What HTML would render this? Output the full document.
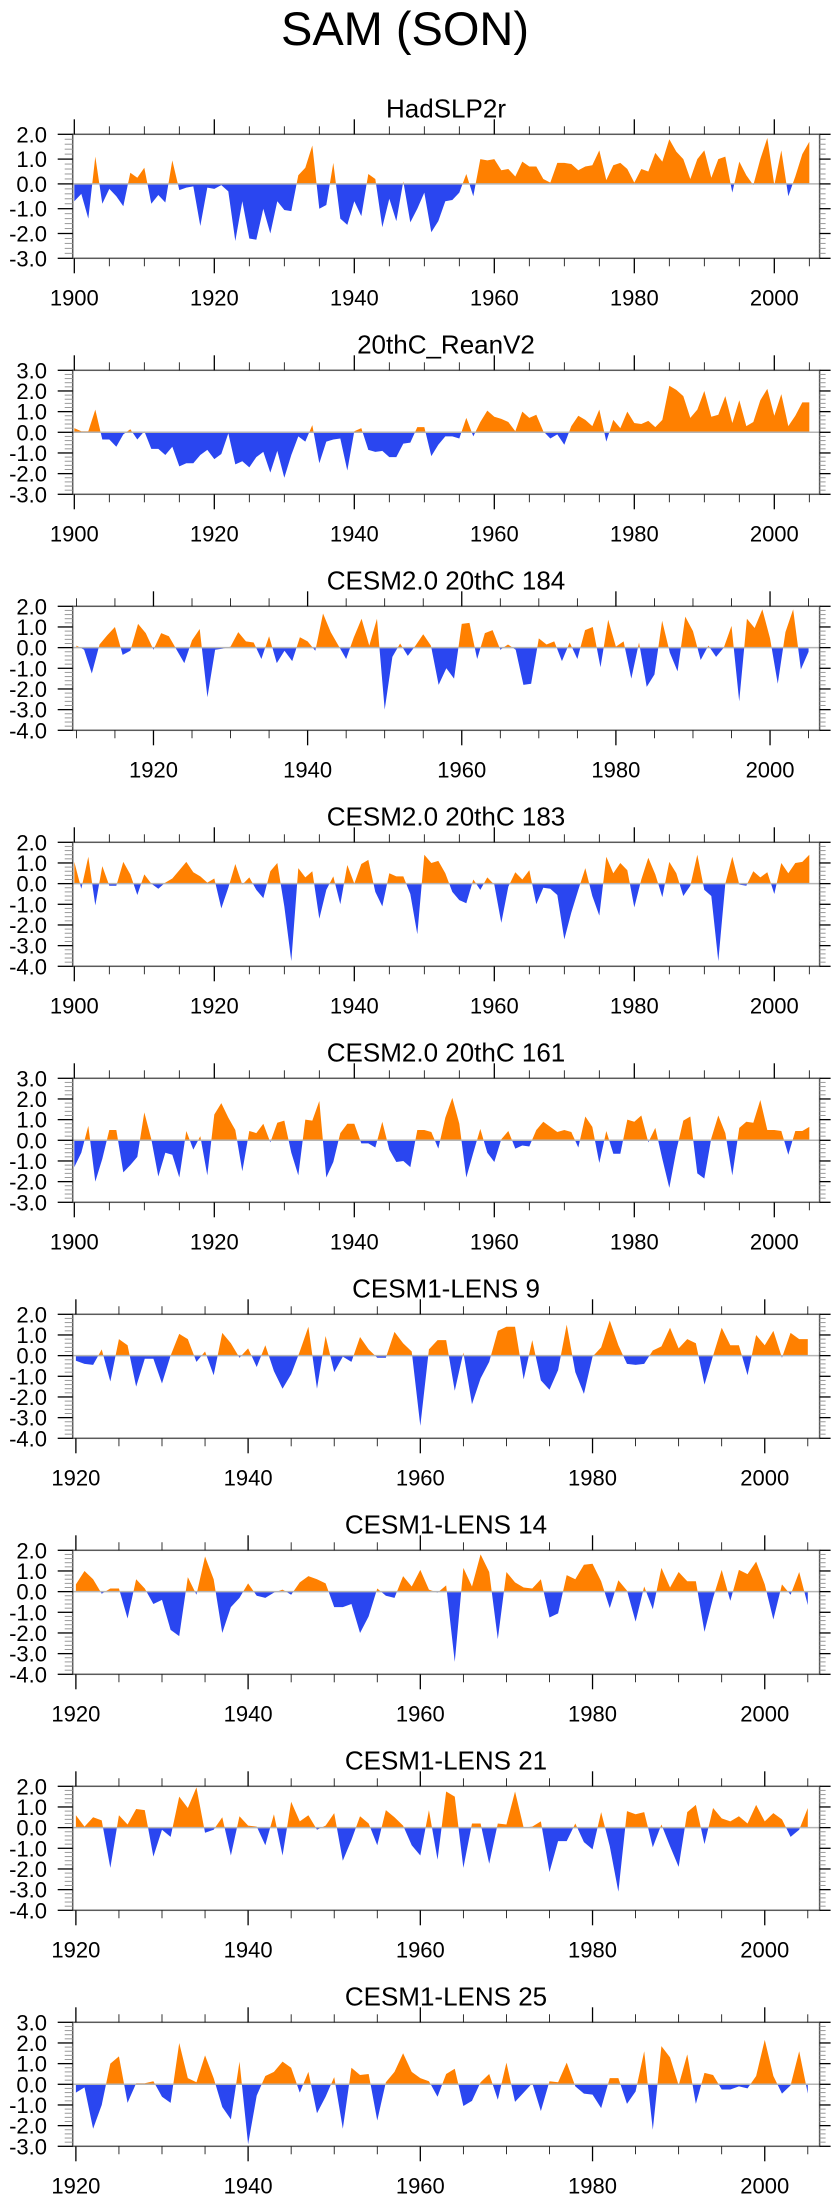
<!DOCTYPE html>
<html>
<head>
<meta charset="utf-8">
<style>
  html, body { margin: 0; padding: 0; background: #fff; }
  svg { display: block; font-family: "Liberation Sans", "DejaVu Sans", sans-serif; }
</style>
</head>
<body>
<svg id="chart" width="840" height="2200" viewBox="0 0 840 2200" xmlns="http://www.w3.org/2000/svg">
  <rect x="0" y="0" width="840" height="2200" fill="#ffffff"/>
  <text x="405" y="45" font-size="47" text-anchor="middle" fill="#000">SAM (SON)</text>
</svg>
<script>
// ---- data ----
const panelTitles = ["HadSLP2r","20thC_ReanV2","CESM2.0 20thC 184","CESM2.0 20thC 183","CESM2.0 20thC 161","CESM1-LENS 9","CESM1-LENS 14","CESM1-LENS 21","CESM1-LENS 25"];
const startYears = [1900,1900,1910,1900,1900,1920,1920,1920,1920];
const yMaxes = [2,3,2,2,3,2,2,2,3];
const yMins = [-3,-3,-4,-4,-3,-4,-4,-4,-3];
const xTickLabels1900 = [1900,1920,1940,1960,1980,2000];
const xTickLabels1920 = [1920,1940,1960,1980,2000];

const hadslp2r = [-0.7,-0.4,-1.4,1.1,-0.8,-0.2,-0.5,-0.9,0.45,0.25,
 0.65,-0.8,-0.45,-0.75,0.95,-0.25,-0.15,-0.1,-1.7,-0.15,
 -0.2,-0.05,-0.3,-2.3,-0.7,-2.2,-2.25,-1.0,-2.0,-0.7,
 -1.05,-1.1,0.35,0.65,1.55,-1.0,-0.85,0.85,-1.4,-1.65,
 -0.7,-1.3,0.4,0.2,-1.75,-0.6,-1.5,0.1,-1.55,-1.0,
 -0.35,-1.95,-1.5,-0.7,-0.65,-0.35,0.4,-0.5,1.0,0.95,
 1.0,0.55,0.6,0.3,0.9,0.7,0.7,0.2,0.05,0.85,
 0.85,0.8,0.55,0.7,0.75,1.35,0.15,0.75,0.85,0.6,
 0.05,0.6,0.5,1.25,0.9,1.8,1.3,1.0,0.2,1.0,
 1.35,0.25,1.0,1.1,-0.35,0.9,0.35,-0.05,1.0,1.85,
 -0.05,1.35,-0.5,0.3,1.2,1.7];
const reanV2 = [0.2,0.05,0.05,1.1,-0.35,-0.35,-0.7,-0.1,0.15,-0.35,
 0.05,-0.8,-0.8,-1.1,-0.7,-1.65,-1.5,-1.5,-1.1,-0.85,
 -1.3,-1.05,-0.05,-1.55,-1.4,-1.7,-1.2,-0.95,-1.95,-0.9,
 -2.2,-1.1,-0.2,-0.45,0.35,-1.5,-0.45,-0.35,-0.3,-1.85,
 0.05,0.2,-0.85,-0.95,-0.9,-1.2,-1.2,-0.55,-0.5,0.25,
 0.25,-1.15,-0.6,-0.2,-0.2,-0.3,0.7,-0.2,0.5,1.05,
 0.75,0.65,0.5,0.05,1.0,0.7,0.85,0.05,-0.3,-0.1,
 -0.6,0.3,0.8,0.6,0.3,1.1,-0.45,0.6,0.2,1.0,
 0.45,0.4,0.55,0.25,0.6,2.25,2.05,1.75,0.7,1.1,
 2.0,0.75,0.85,1.75,0.45,1.55,0.3,0.5,1.55,2.1,
 0.8,1.85,0.3,0.8,1.45,1.45];
const cesm2m184 = [0.1,-0.1,-1.25,0.15,0.6,1.0,-0.35,-0.15,1.15,0.7,
 -0.1,0.7,0.55,-0.1,-0.75,0.35,0.9,-2.4,-0.1,-0.05,
 0.05,0.75,0.3,0.25,-0.55,0.55,-0.75,-0.15,-0.65,0.5,
 0.3,-0.15,1.65,0.75,0.1,-0.55,0.5,1.4,0.1,1.4,
 -3.0,-0.45,0.2,-0.4,0.1,0.65,0.1,-1.8,-1.0,-1.5,
 1.15,1.2,-0.55,0.7,0.85,-0.1,0.15,-0.1,-1.8,-1.75,
 0.45,0.15,0.3,-0.65,0.25,-0.55,0.85,1.0,-0.95,1.35,
 0.05,0.3,-1.5,0.25,-1.9,-1.3,1.3,-0.25,-1.15,1.5,
 0.8,-0.6,0.1,-0.45,0.0,1.05,-2.6,1.4,0.95,1.85,
 0.45,-1.75,0.75,1.85,-1.05,-0.2];
const cesm2m183 = [1.05,-0.25,1.3,-1.05,0.85,-0.1,-0.1,1.05,0.45,-0.55,
 0.45,0.0,-0.25,0.05,0.25,0.65,1.05,0.55,0.35,0.05,
 0.25,-1.2,-0.2,0.95,-0.05,0.3,-0.3,-0.7,0.6,1.0,
 -1.1,-3.75,0.75,0.3,0.6,-1.7,-0.3,0.35,-1.0,0.9,
 0.0,0.95,1.15,-0.4,-1.1,0.5,0.35,0.35,-0.5,-2.45,
 1.4,1.0,1.1,0.5,-0.4,-0.8,-0.95,0.2,-0.3,0.3,
 -0.05,-1.9,-0.15,0.55,0.2,0.65,-1.0,-0.2,-0.25,-0.55,
 -2.7,-1.4,-0.3,0.75,-0.6,-1.55,1.3,0.5,1.0,0.65,
 -1.15,0.2,1.25,0.45,-0.65,1.05,0.5,-0.6,-0.1,1.4,
 -0.3,-0.6,-3.75,0.0,1.3,-0.05,-0.1,0.6,0.3,0.55,
 -0.5,1.0,0.5,1.0,1.05,1.4];
const cesm2m161 = [-1.3,-0.6,0.7,-2.0,-0.9,0.5,0.5,-1.55,-1.2,-0.8,
 1.35,0.05,-1.75,-0.6,-0.7,-1.8,0.45,-0.45,0.2,-1.7,
 1.25,1.8,1.1,0.5,-1.5,0.45,0.35,0.8,-0.1,0.85,
 0.95,-0.6,-1.7,1.0,0.95,1.9,-1.8,-1.05,0.35,0.8,
 0.8,-0.15,-0.15,-0.35,0.9,-0.45,-1.05,-1.0,-1.3,0.5,
 0.5,0.4,-0.4,1.1,2.05,0.8,-1.8,-0.6,0.55,-0.6,
 -1.05,0.05,0.45,-0.4,-0.25,-0.3,0.5,0.9,0.65,0.4,
 0.5,0.4,-0.35,1.15,0.65,-1.1,0.45,-0.65,-0.65,1.0,
 0.9,1.2,-0.1,0.6,-0.9,-2.3,-0.5,0.95,1.15,-1.6,
 -1.85,0.1,1.2,0.35,-1.7,0.6,0.9,0.85,1.95,0.5,
 0.5,0.45,-0.7,0.45,0.45,0.65];
const lens9 = [-0.25,-0.4,-0.45,0.3,-1.25,0.8,0.5,-1.5,-0.15,-0.15,
 -1.35,0.0,1.05,0.8,-0.3,0.2,-0.95,1.1,0.6,-0.1,
 0.35,-0.55,0.5,-0.75,-1.6,-0.9,0.2,1.4,-1.6,0.95,
 -0.8,-0.05,-0.3,0.9,0.3,-0.1,-0.1,1.15,0.6,0.2,
 -3.4,0.3,0.75,0.75,-1.7,0.15,-2.35,-1.1,-0.3,1.2,
 1.4,1.4,-1.15,0.75,-1.2,-1.65,-0.7,1.5,-0.8,-1.85,
 -0.05,0.4,1.7,0.5,-0.4,-0.45,-0.4,0.25,0.45,1.35,
 0.35,0.8,0.6,-1.4,0.0,1.35,0.5,0.5,-0.95,1.0,
 0.5,1.2,-0.1,1.1,0.8,0.8];
const lens14 = [0.35,1.0,0.6,-0.1,0.15,0.15,-1.3,0.6,0.15,-0.6,
 -0.4,-1.85,-2.15,0.7,-0.15,1.7,0.6,-2.0,-0.75,-0.3,
 0.4,-0.2,-0.3,-0.05,0.1,-0.15,0.45,0.75,0.6,0.4,
 -0.75,-0.75,-0.6,-2.0,-1.2,0.15,-0.2,-0.3,0.75,0.25,
 1.05,0.1,-0.05,0.3,-3.4,1.15,0.25,1.8,0.95,-2.3,
 0.95,0.45,0.2,0.15,0.6,-1.25,-1.05,0.8,0.6,1.3,
 1.35,0.5,-0.8,0.55,0.05,-1.45,0.25,-0.85,1.15,0.2,
 0.95,0.5,0.5,-1.95,-0.3,1.05,-0.45,1.05,0.85,1.45,
 0.35,-1.35,0.35,-0.15,0.95,-0.65];
const lens21 = [0.6,0.05,0.5,0.35,-1.95,0.6,0.15,0.9,0.85,-1.4,
 -0.1,-0.45,1.5,0.95,1.95,-0.25,-0.1,0.5,-1.35,0.55,
 0.1,0.05,-0.85,0.65,-1.35,1.25,0.3,0.6,-0.1,0.1,
 0.7,-1.6,-0.6,0.55,0.2,-0.85,0.85,0.5,0.1,-0.85,
 -1.35,0.85,-1.55,1.75,1.5,-1.95,0.2,0.2,-1.75,0.2,
 0.15,1.75,0.0,0.05,0.3,-2.15,-0.65,-0.65,0.2,-0.7,
 -1.05,0.75,-0.9,-3.1,0.8,0.65,0.75,-0.95,0.15,-0.9,
 -1.9,0.75,1.1,-0.8,0.95,0.45,0.3,0.55,0.2,1.1,
 0.3,0.7,0.4,-0.45,-0.1,0.95];
const lens25 = [-0.4,-0.15,-2.15,-1.0,1.0,1.35,-0.9,0.05,0.05,0.15,
 -0.6,-0.9,2.0,0.3,0.1,1.4,0.3,-1.1,-1.7,1.1,
 -2.9,-0.55,0.4,0.6,1.1,0.8,-0.4,0.6,-1.4,-0.6,
 0.35,-2.15,0.8,0.45,0.5,-1.75,0.1,0.6,1.5,0.6,
 0.3,0.15,-0.6,0.5,0.75,-1.05,-0.8,0.1,0.5,-0.75,
 1.05,-0.85,-0.4,0.05,-1.3,0.15,0.1,1.05,-0.1,-0.45,
 -0.5,-1.15,0.3,0.3,-0.95,-0.35,1.6,-2.2,1.85,1.3,
 -0.05,1.45,-0.95,0.55,0.45,-0.25,-0.25,-0.1,-0.2,0.4,
 2.15,0.4,-0.45,-0.05,1.6,-0.45];
const seriesList = [hadslp2r, reanV2, cesm2m184, cesm2m183, cesm2m161, lens9, lens14, lens21, lens25];

// ---- layout ----
const NS = "http://www.w3.org/2000/svg";
const svg = document.getElementById("chart");
const boxLeft = 72.7, boxRight = 819.6, boxH = 124, firstTop = 134.3, panelStep = 236;
const xRanges = {1900: [1899.77, 2006.47], 1910: [1909.52, 2006.43], 1920: [1919.63, 2006.37]};
const ORANGE = "#ff8000", BLUE = "#2a46f0";

function mk(tag, attrs, parent) {
  const e = document.createElementNS(NS, tag);
  for (const k in attrs) e.setAttribute(k, attrs[k]);
  (parent || svg).appendChild(e);
  return e;
}

for (let p = 0; p < seriesList.length; p++) {
  const vals = seriesList[p];
  const y0 = startYears[p];
  const [xmin, xmax] = xRanges[y0];
  const ymax = yMaxes[p], ymin = yMins[p];
  const top = firstTop + panelStep * p, bottom = top + boxH;
  const xs = yr => boxLeft + (yr - xmin) / (xmax - xmin) * (boxRight - boxLeft);
  const ys = v => top + (ymax - v) / (ymax - ymin) * boxH;

  const g = mk("g", {});
  
  

  const title = mk("text", {x: 446, y: top - 17, "font-size": 26, "text-anchor": "middle", fill: "#000"}, g);
  title.textContent = panelTitles[p];
  
  

  // build points with zero-crossing insertion
  const pts = [];
  for (let i = 0; i < vals.length; i++) {
    const yr = y0 + i, v = vals[i];
    if (i > 0) {
      const pv = vals[i - 1];
      if ((pv > 0 && v < 0) || (pv < 0 && v > 0)) {
        const t = pv / (pv - v);
        pts.push([yr - 1 + t, 0]);
      }
    }
    pts.push([yr, v]);
  }
  const lastYr = y0 + vals.length - 1;
  function areaPath(fn) {
    let d = "M" + xs(y0).toFixed(2) + "," + ys(0).toFixed(2);
    for (const [yr, v] of pts) d += "L" + xs(yr).toFixed(2) + "," + ys(fn(v)).toFixed(2);
    d += "L" + xs(lastYr).toFixed(2) + "," + ys(0).toFixed(2) + "Z";
    return d;
  }
  const pos = mk("path", {d: areaPath(v => Math.max(v, 0)), fill: ORANGE, stroke: "none"}, g);
  
  
  const neg = mk("path", {d: areaPath(v => Math.min(v, 0)), fill: BLUE, stroke: "none"}, g);
  
  

  const zl = mk("line", {x1: boxLeft, x2: boxRight, y1: ys(0), y2: ys(0), stroke: "#b4b4b4", "stroke-width": 1.5}, g);
  
  

  const box = mk("rect", {x: boxLeft, y: top, width: boxRight - boxLeft, height: boxH, fill: "none", stroke: "#5a5a5a", "stroke-width": 1.5}, g);
  
  

  // y ticks
  for (let k = Math.round(ymin * 5); k <= Math.round(ymax * 5); k++) {
    const v = k / 5, yy = ys(v), major = (k % 5 === 0);
    mk("line", {x1: boxLeft - (major ? 15 : 8), x2: boxLeft, y1: yy, y2: yy, stroke: major ? "#000" : "#999", "stroke-width": major ? 1.3 : 1}, g);
    mk("line", {x1: boxRight, x2: boxRight + (major ? 11 : 6), y1: yy, y2: yy, stroke: major ? "#000" : "#999", "stroke-width": major ? 1.3 : 1}, g);
    if (major) {
      const t = mk("text", {x: 47, y: yy + 8, "font-size": 22, "text-anchor": "end", fill: "#000"}, g);
      t.textContent = v.toFixed(1);
      
      
    }
  }
  // x ticks
  for (let yr = Math.ceil(xmin / 5) * 5; yr <= xmax; yr += 5) {
    const xx = xs(yr), major = (yr % 20 === 0);
    const len = major ? 15 : 8;
    mk("line", {x1: xx, x2: xx, y1: top - len, y2: top, stroke: "#000", "stroke-width": major ? 1.3 : 0.8}, g);
    mk("line", {x1: xx, x2: xx, y1: bottom, y2: bottom + len, stroke: "#000", "stroke-width": major ? 1.3 : 0.8}, g);
  }
  const labels = y0 === 1900 ? xTickLabels1900 : xTickLabels1920;
  for (const yr of labels) {
    const t = mk("text", {x: xs(yr), y: bottom + 47, "font-size": 22, "text-anchor": "middle", fill: "#000"}, g);
    t.textContent = String(yr);
    
    
  }
}
</script>
</body>
</html>
